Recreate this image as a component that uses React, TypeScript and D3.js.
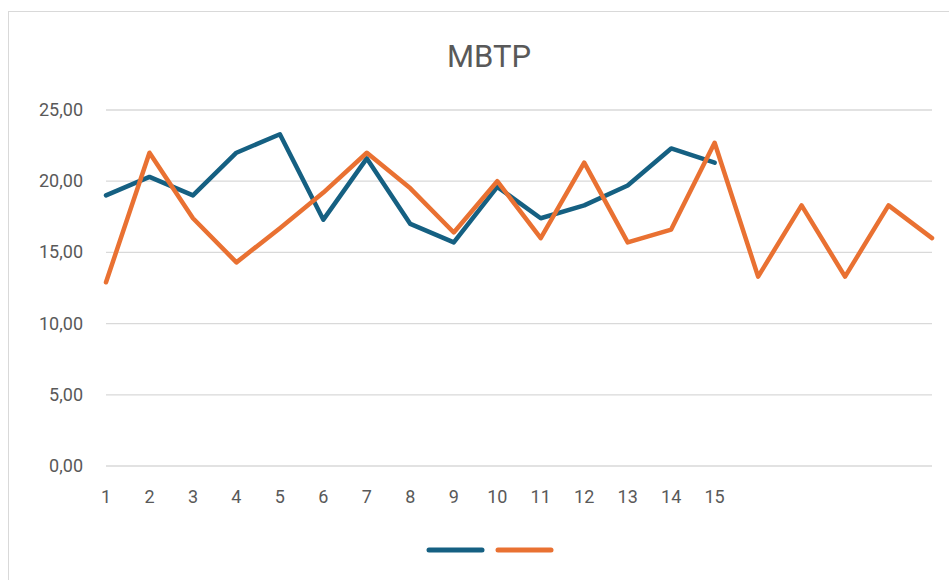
import React, { useRef, useEffect } from 'react';
import * as d3 from 'd3';

const title = 'MBTP';
const categories = ['1', '2', '3', '4', '5', '6', '7', '8', '9', '10', '11', '12', '13', '14', '15'];
const blueValues = [19.0, 20.3, 19.0, 22.0, 23.3, 17.3, 21.6, 17.0, 15.7, 19.6, 17.4, 18.3, 19.7, 22.3, 21.3];
const orangeValues = [12.9, 22.0, 17.4, 14.3, 16.7, 19.2, 22.0, 19.5, 16.4, 20.0, 16.0, 21.3, 15.7, 16.6, 22.7, 13.3, 18.3, 13.3, 18.3, 16.0];
const yTicks = [0, 5, 10, 15, 20, 25];

const W = 949;
const H = 580;

const App = () => {
  const ref = useRef<SVGSVGElement>(null);

  useEffect(() => {
    const svg = d3.select(ref.current)
      .attr('width', W)
      .attr('height', H)
      .style('background-color', 'white');

    svg.selectAll('*').remove();

    const font = 'Roboto, "Liberation Sans", sans-serif';
    const textColor = '#595959';

    // chart frame (right side runs off the page)
    svg.append('rect')
      .attr('x', 8.5).attr('y', 11.5)
      .attr('width', 980).attr('height', 600)
      .attr('fill', 'none')
      .attr('stroke', '#d9d9d9')
      .attr('stroke-width', 1);

    const left = 106;
    const right = 932;
    const top = 110;
    const bottom = 466;

    const n = orangeValues.length;
    const xScale = d3.scaleLinear().domain([0, n - 1]).range([left, right]);
    const yScale = d3.scaleLinear().domain([0, 25]).range([bottom, top]);

    // title
    svg.append('text')
      .attr('x', 489)
      .attr('y', 67)
      .attr('text-anchor', 'middle')
      .style('font-family', font)
      .style('font-size', '31px')
      .style('fill', textColor)
      .text(title);

    // gridlines
    svg.append('g')
      .selectAll('line')
      .data(yTicks)
      .enter()
      .append('line')
      .attr('x1', left)
      .attr('x2', right)
      .attr('y1', d => yScale(d))
      .attr('y2', d => yScale(d))
      .attr('stroke', '#d9d9d9')
      .attr('stroke-width', 1.3);

    // y labels
    svg.append('g')
      .selectAll('text')
      .data(yTicks)
      .enter()
      .append('text')
      .attr('x', 83)
      .attr('y', d => yScale(d) + 6)
      .attr('text-anchor', 'end')
      .style('font-family', font)
      .style('font-size', '18px')
      .style('fill', textColor)
      .text(d => d3.format('.2f')(d).replace('.', ','));

    // x labels
    svg.append('g')
      .selectAll('text')
      .data(categories)
      .enter()
      .append('text')
      .attr('x', (d, i) => xScale(i))
      .attr('y', 503)
      .attr('text-anchor', 'middle')
      .style('font-family', font)
      .style('font-size', '18px')
      .style('fill', textColor)
      .text(d => d);

    const line = d3.line<number>()
      .x((d, i) => xScale(i))
      .y(d => yScale(d))
      .curve(d3.curveLinear);

    svg.append('path')
      .datum(blueValues)
      .attr('d', line)
      .style('fill', 'none')
      .style('stroke', '#156082')
      .style('stroke-width', 4.5)
      .style('stroke-linejoin', 'round')
      .style('stroke-linecap', 'round');

    svg.append('path')
      .datum(orangeValues)
      .attr('d', line)
      .style('fill', 'none')
      .style('stroke', '#E97132')
      .style('stroke-width', 4.5)
      .style('stroke-linejoin', 'round')
      .style('stroke-linecap', 'round');

    // legend (series have no names)
    const legend = [
      { color: '#156082', x: 429 },
      { color: '#E97132', x: 498 },
    ];
    svg.append('g')
      .selectAll('line')
      .data(legend)
      .enter()
      .append('line')
      .attr('x1', d => d.x)
      .attr('x2', d => d.x + 53)
      .attr('y1', 550)
      .attr('y2', 550)
      .attr('stroke', d => d.color)
      .attr('stroke-width', 5)
      .attr('stroke-linecap', 'round');
  }, []);

  return (
    <div style={{ position: 'fixed', left: 0, top: 0 }}>
      <svg ref={ref}></svg>
    </div>
  );
};

export default App;
